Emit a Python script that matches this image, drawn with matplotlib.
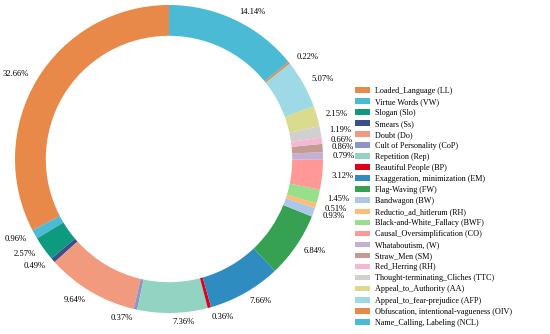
import matplotlib.pyplot as plt
import numpy as np

plt.rcParams['font.family'] = ['Liberation Serif', 'DejaVu Serif']

# categories in drawing order (counter-clockwise from the top)
names = ['Loaded_Language (LL)', 'Virtue Words (VW)', 'Slogan (Slo)', 'Smears (Ss)',
         'Doubt (Do)', 'Cult of Personality (CoP)', 'Repetition (Rep)',
         'Beautiful People (BP)', 'Exaggeration, minimization (EM)', 'Flag-Waving (FW)',
         'Bandwagon (BW)', 'Reductio_ad_hitlerum (RH)', 'Black-and-White_Fallacy (BWF)',
         'Causal_Oversimplification (CO)', 'Whataboutism, (W)', 'Straw_Men (SM)',
         'Red_Herring (RH)', 'Thought-terminating_Cliches (TTC)', 'Appeal_to_Authority (AA)',
         'Appeal_to_fear-prejudice (AFP)', 'Obfuscation, intentional-vagueness (OIV)',
         'Name_Calling, Labeling (NCL)']
shares = [32.66, 0.96, 2.57, 0.49, 9.64, 0.37, 7.36, 0.36, 7.66, 6.84, 0.93, 0.51,
          1.45, 3.12, 0.79, 0.86, 0.66, 1.19, 2.15, 5.07, 0.22, 14.14]
colors = ['#e8894a', '#4bbad4', '#0e9a7f', '#3b4f8a', '#f29a7d', '#8c96c6', '#93d3c2',
          '#e0001a', '#2f8cc0', '#36a152', '#aec7e8', '#ffbb78', '#98df8a', '#ff9896',
          '#c5b0d5', '#c49c94', '#f7b6d2', '#d0d0d0', '#dbdb8d', '#9edae5', '#e8894a',
          '#4bbad4']

fig = plt.figure(figsize=(5.5, 3.34), dpi=100)
ax = fig.add_axes([15 / 550, (334 - 159 - 154) / 334, 308 / 550, 308 / 334])

pct_labels = ['%.2f%%' % s for s in shares]
wedges, texts = ax.pie(shares, colors=colors, startangle=90, counterclock=True,
                       labels=pct_labels, labeldistance=1.06,
                       wedgeprops=dict(width=0.2, edgecolor='none'),
                       textprops=dict(fontsize=6.2))
ax.set_xlim(-1, 1)
ax.set_ylim(-1, 1)
ax.set_aspect('equal')

fig.legend(wedges, names, loc='center left', bbox_to_anchor=(0.632, 0.381),
           frameon=False, fontsize=5.9, handlelength=1.8, handleheight=0.7,
           handletextpad=0.6, labelspacing=0.37)

fig.savefig('out.png', dpi=100)
